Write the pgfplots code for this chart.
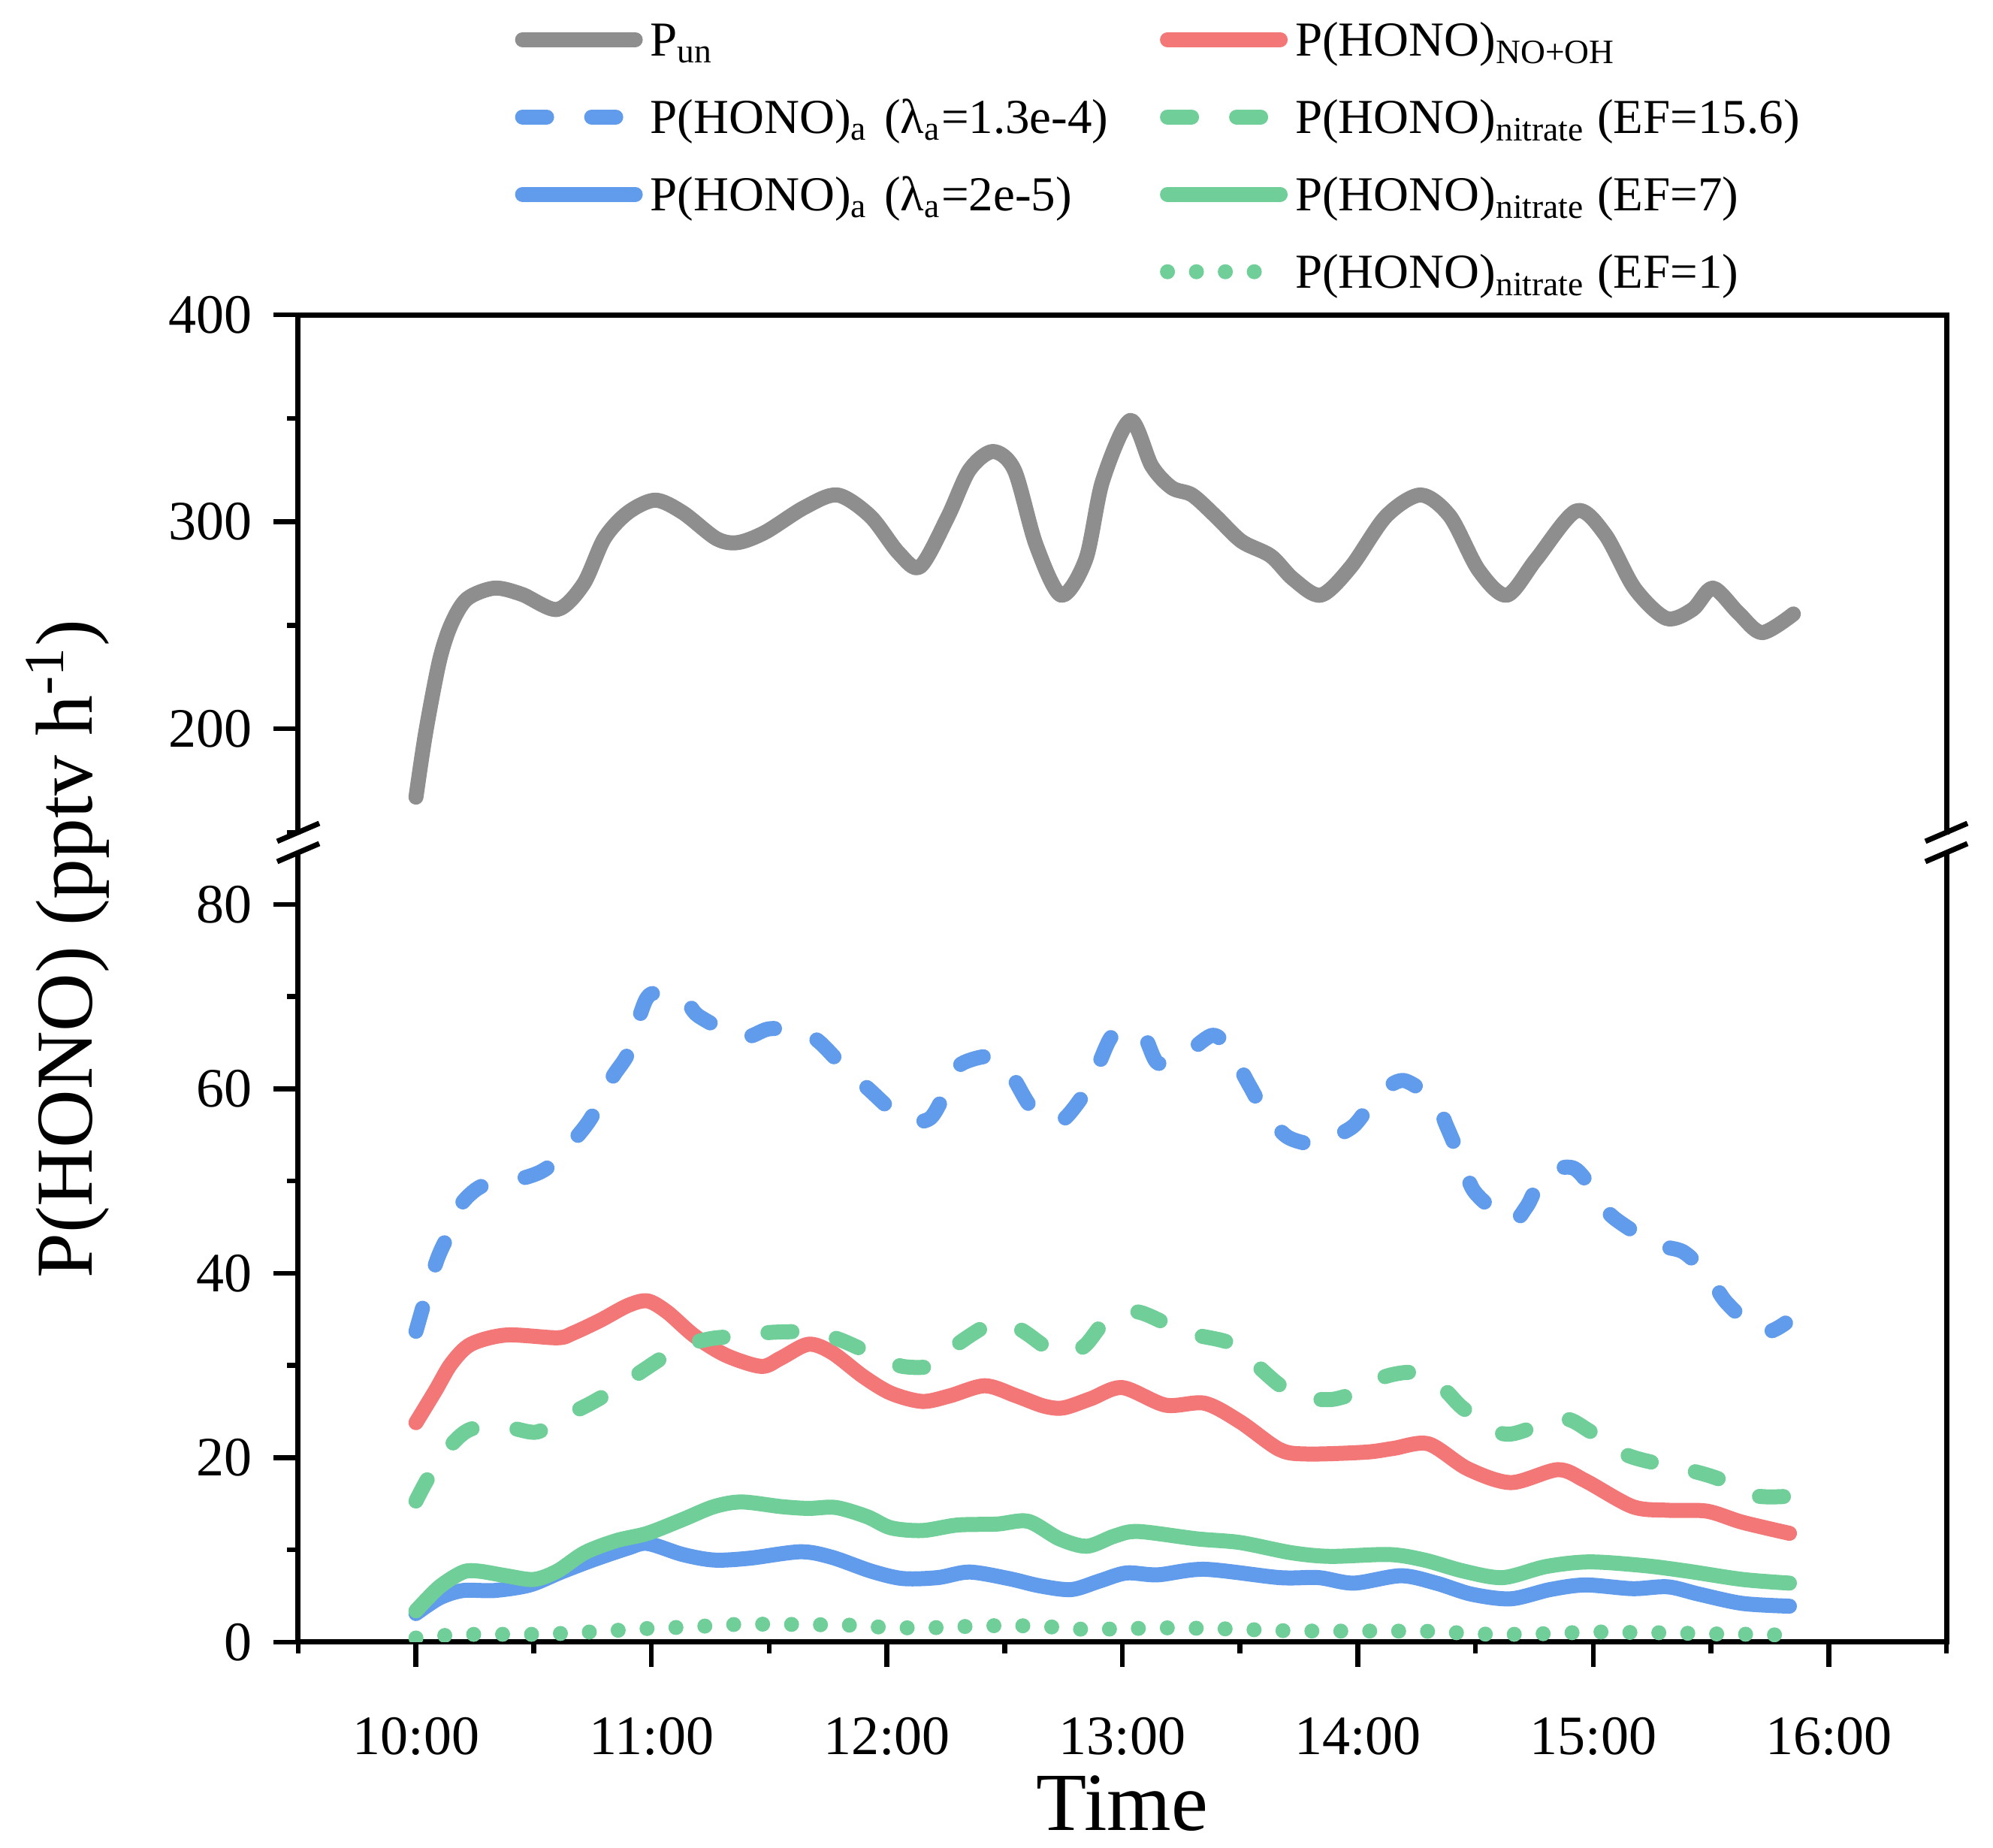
\documentclass[border=0pt]{standalone}
\usepackage{fontspec}
\setmainfont{Liberation Serif}
\usepackage{pgfplots}
\pgfplotsset{compat=1.18}
\definecolor{cgray}{RGB}{142,142,142}
\definecolor{cred}{RGB}{244,119,119}
\definecolor{cblue}{RGB}{97,155,235}
\definecolor{cgreen}{RGB}{112,207,152}
\pgfplotsset{
  myaxis/.style={
    scale only axis, width=438.8pt,
    xmin=-30, xmax=390,
    axis line style={line width=1.4pt, line cap=rect, -},
    tick style={line width=1.3pt, black},
    major tick length=6.6pt, minor tick length=3pt,
    tick align=outside,
    tick label style={font=\fontsize{14.8}{17}\selectfont},
    /pgf/number format/assume math mode=true,
    yticklabel style={anchor=east, inner sep=0pt, xshift=-5.4pt},
    ytick pos=left,
  },
  dat/.style={line width=4pt, smooth, line join=round, line cap=round},
  dsh/.style={dash pattern=on 6.4pt off 12pt},
  dtt/.style={dash pattern=on 0pt off 7.7pt},
}
\begin{document}
\begin{tikzpicture}
% ---------------- lower axis ----------------
\begin{axis}[myaxis, at={(0pt,0pt)}, anchor=south west, height=209.2pt,
  ymin=0, ymax=85.2,
  axis x line*=bottom, axis y line*=left, xtick pos=bottom,
  xtick={0,60,...,360},
  xticklabels={10:00,11:00,12:00,13:00,14:00,15:00,16:00},
  minor xtick={-30,30,...,390},
  ytick={0,20,...,80}, minor ytick={10,30,...,70},
  xticklabel style={anchor=base, inner sep=0pt, yshift=-23.4pt},
]
\addplot[dat, cblue, dsh] coordinates {
(0,33.7) (5,41.0) (8,44.0) (11,47.2) (17,49.5) (28,50.4) (34,51.6) (41,54.8) (45,57.1) (50,61.2) (54,63.8) (57,67.9) (60,70.3) (68,69.9) (72,67.9) (83,65.6) (90,66.5) (98,66.3) (103,65.0) (110,61.9) (115,60.1) (124,56.8) (131,56.8) (136,60.6) (139,62.7) (147,63.5) (152,61.3) (157,57.9) (164,56.4) (171,59.9) (174,62.7) (178,66.0) (185,66.0) (189,62.8) (195,63.4) (203,65.8) (207.5,64.0) (212.6,60.2) (216,57.7) (222,54.8) (229.6,53.9) (232.5,54.5) (239,56.0) (245,59.2) (251.6,60.9) (259.7,58.6) (262.6,56.0) (267,51.6) (270,48.7) (278.8,45.6) (283,47.2) (287.6,50.7) (295,51.4) (301,48.4) (305,46.1) (315.6,43.2) (323,42.3) (329.6,39.6) (334,36.8) (342.8,33.6) (349,34.6)
};
\addplot[dat, cred] coordinates {
(0,23.8) (5,27.3) (9,30.2) (14,32.3) (23,33.3) (36,33.0) (40,33.5) (47,34.9) (54,36.5) (59,37.0) (64,35.8) (71,33.2) (79,31.1) (88,29.9) (93,30.8) (100,32.3) (106,31.4) (114,28.8) (121,27.0) (129,26.1) (136,26.7) (145,27.8) (153,26.7) (160,25.6) (165,25.4) (172,26.4) (180,27.6) (191,25.7) (201,25.9) (210,23.9) (220,20.9) (227,20.4) (242,20.6) (249,21.0) (258,21.5) (268,18.8) (279,17.3) (291,18.7) (298,17.5) (310,14.7) (319,14.3) (329,14.2) (338,13.0) (350,11.8)
};
\addplot[dat, cgreen, dsh] coordinates {
(0,15.3) (3,17.7) (8,20.9) (14,23.1) (24,23.2) (31,22.8) (39,24.7) (45,26.0) (53,28.0) (58,29.5) (67,31.9) (75,32.9) (83,33.2) (91,33.6) (101,33.6) (108,32.8) (117,31.1) (124,29.9) (132,30.0) (137,32.0) (147,34.6) (154,33.9) (163,31.4) (170,32.0) (176,34.9) (184,35.8) (196,33.6) (207,32.5) (213,30.5) (220,27.9) (226,26.6) (233,26.3) (239,27.0) (247,28.8) (255,29.2) (262,27.4) (267,25.3) (277,22.6) (285,23.3) (293,24.2) (299,22.9) (308,20.4) (316,19.4) (324,18.7) (332,17.7) (341,15.9) (349,15.8)
};
\addplot[dat, cblue] coordinates {
(0,3.1) (6,4.8) (12,5.6) (20,5.6) (29,6.2) (37,7.6) (45,8.9) (54,10.2) (59,10.7) (68,9.5) (76,8.9) (85,9.1) (98,9.8) (106,9.2) (116,7.7) (124,6.9) (133,7.0) (141,7.6) (151,6.9) (159,6.1) (167,5.7) (174,6.6) (181,7.5) (189,7.3) (201,7.9) (220,7.0) (230,7.0) (239,6.4) (251,7.2) (260,6.4) (269,5.2) (279,4.7) (289,5.7) (298,6.2) (310,5.8) (319,6.0) (327,5.2) (338,4.2) (350,3.9)
};
\addplot[dat, cgreen] coordinates {
(0,3.4) (6,6.0) (12,7.6) (16,7.7) (23,7.2) (30,6.8) (36,7.7) (43,9.7) (51,11.0) (59,11.8) (68,13.3) (76,14.7) (83,15.2) (93,14.7) (100,14.5) (107,14.6) (115,13.6) (121,12.4) (129,12.1) (138,12.7) (148,12.8) (156,13.1) (164,11.2) (171,10.4) (178,11.5) (184,12.0) (199,11.2) (210,10.8) (223,9.7) (233,9.3) (248,9.5) (257,8.9) (267,7.7) (277,7.0) (288,8.2) (299,8.7) (313,8.3) (324,7.7) (338,6.8) (350,6.4)
};
\addplot[dat, cgreen, dtt] coordinates {
(0,0.45) (10,0.8) (20,0.85) (30,0.85) (40,1.0) (50,1.25) (60,1.5) (70,1.65) (80,1.9) (90,1.95) (100,1.9) (110,1.85) (120,1.6) (130,1.55) (140,1.7) (150,1.8) (160,1.7) (170,1.4) (180,1.45) (190,1.55) (200,1.5) (210,1.4) (220,1.25) (230,1.2) (240,1.2) (250,1.2) (260,1.15) (270,0.9) (280,0.85) (290,0.95) (300,1.1) (310,1.05) (320,1.0) (330,0.9) (340,0.85) (350,0.75)
};
\end{axis}
% ---------------- upper axis ----------------
\begin{axis}[myaxis, at={(0pt,215.6pt)}, anchor=south west, height=137.75pt,
  ymin=150, ymax=400,
  axis x line*=top, axis y line*=left, xtick=\empty,
  ytick={200,300,400}, minor ytick={150,250,350},
  legend columns=2,
  legend image code/.code={\path (0pt,0pt) (34pt,0pt); \draw[#1] (2pt,0pt) -- (32pt,0pt);},
  legend style={draw=none, fill=none, inner sep=0pt, outer sep=0pt,
    at={(0.1270,1.5724)}, anchor=north west, row sep=9.5pt,
    font=\fontsize{13}{16}\selectfont, cells={anchor=west},
    nodes={inner sep=0pt, text height=10pt, text depth=1.1pt},
    /tikz/every odd column/.append style={column sep=0pt},
    /tikz/column 2/.style={text width=133.7pt}},
]
\addplot[dat, cgray] coordinates {
(0,167) (2.5,198.5) (6,233) (9,250.6) (13,262.8) (20,268) (27,265) (36,257.7) (42.7,270) (48,292) (54,304.5) (61,310.5) (68,304.5) (76.5,292) (82,290) (89,295) (99,307) (107.4,313) (115.8,302.7) (123,285) (128.5,278.4) (135.6,302.7) (141,325) (147,334) (152.5,325) (158,289) (164.4,264.6) (170.7,282) (175,320) (182,349) (187.5,327) (192.6,316.5) (197.8,313) (203.8,302.7) (210.4,290.6) (217.8,283.6) (223.6,272.3) (230.6,264.6) (238.3,278.4) (247.2,302.7) (256,313) (263.5,302.7) (270.8,276.7) (278,264.6) (285.5,282) (295.7,305.3) (303,294) (310.5,268) (318.6,253.4) (325.3,257.7) (330.5,268) (337,256) (343,246.5) (351,255.5)
};
\addlegendentry{P\textsubscript{un}}
\addlegendimage{dat, cred}
\addlegendentry{P(HONO)\textsubscript{NO+OH}}
\addlegendimage{dat, cblue, dsh}
\addlegendentry{P(HONO)\textsubscript{a} (λ\textsubscript{a}=1.3e-4)}
\addlegendimage{dat, cgreen, dsh}
\addlegendentry{P(HONO)\textsubscript{nitrate} (EF=15.6)}
\addlegendimage{dat, cblue}
\addlegendentry{P(HONO)\textsubscript{a} (λ\textsubscript{a}=2e-5)}
\addlegendimage{dat, cgreen}
\addlegendentry{P(HONO)\textsubscript{nitrate} (EF=7)}
\addlegendimage{empty legend}
\addlegendentry{}
\addlegendimage{dat, cgreen, dtt}
\addlegendentry{P(HONO)\textsubscript{nitrate} (EF=1)}
\end{axis}
% right spines and break marks
\draw[line width=1.4pt, line cap=rect] (438.8pt,0pt) -- (438.8pt,209.2pt);
\draw[line width=1.4pt, line cap=rect] (438.8pt,215.6pt) -- (438.8pt,353.35pt);
\foreach \xx in {0pt,438.8pt}{
  \draw[line width=1.4pt] ([shift={(-5.6pt,-2.4pt)}]\xx,215.6pt) -- ([shift={(5.6pt,2.4pt)}]\xx,215.6pt);
  \draw[line width=1.4pt] ([shift={(-5.6pt,-2.4pt)}]\xx,210.2pt) -- ([shift={(5.6pt,2.4pt)}]\xx,210.2pt);
}
% axis labels
\node[rotate=90, anchor=base, inner sep=0pt, font=\fontsize{21.5}{26}\selectfont] at (-55pt,184.6pt) {P(HONO) (pptv h\textsuperscript{-1})};
\node[anchor=base, inner sep=0pt, font=\fontsize{22}{26}\selectfont] at (219.4pt,-50.2pt) {Time};
\pgfresetboundingbox
\path[use as bounding box] (-79.4pt,-54.8pt) rectangle (451.2pt,437.2pt);
\end{tikzpicture}
\end{document}
